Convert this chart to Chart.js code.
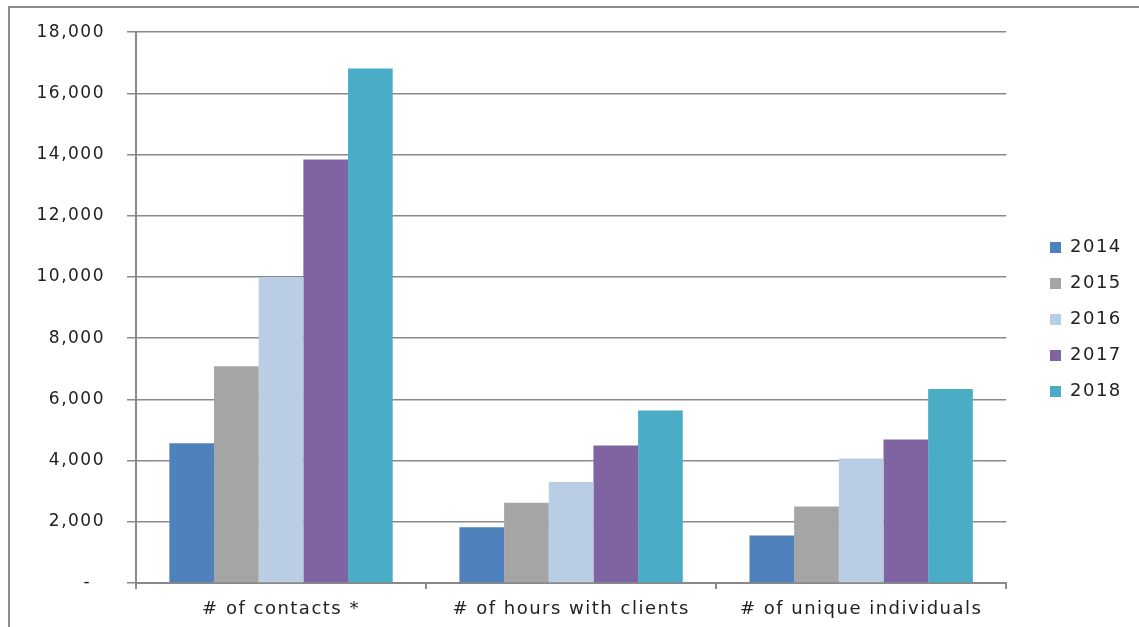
<!DOCTYPE html>
<html>
<head>
<meta charset="utf-8">
<script src="https://cdn.jsdelivr.net/npm/chart.js@4"></script>
<style>
  html, body { margin: 0; padding: 0; background: #fff; overflow: hidden; }
  #wrap { position: relative; width: 1139px; height: 627px; overflow: hidden; }
  #graph { display: block; }
  #frame { position: absolute; left: 8px; top: 6px; width: 1140px; height: 630px; box-sizing: border-box;
           border-top: 2px solid #8c8c8c; border-left: 2px solid #8c8c8c; pointer-events: none; }
</style>
</head>
<body>
<div id="wrap">
  <canvas id="graph" width="1139" height="627"></canvas>
  <div id="frame"></div>
</div>
<script>
// categories and years
const categorias = ['# of contacts *', '# of hours with clients', '# of unique individuals'];
const anios = ['2014', '2015', '2016', '2017', '2018'];

// values, one list per year
const v2014 = [4570, 1820, 1550];
const v2015 = [7080, 2620, 2500];
const v2016 = [10000, 3300, 4070];
const v2017 = [13840, 4490, 4690];
const v2018 = [16810, 5640, 6340];

const colores = ['#4F81BD', '#A5A5A5', '#B9CDE5', '#8064A2', '#4BACC6'];

const yTicks = [0, 2000, 4000, 6000, 8000, 10000, 12000, 14000, 16000, 18000];

const series = [v2014, v2015, v2016, v2017, v2018];
const gris = '#898989';
const fuente = 'DejaVu Sans';

// the original text is a bit wider than the font, so add some spacing
const espaciado = {
  id: 'espaciado',
  beforeLayout(chart) { chart.ctx.letterSpacing = '1.5px'; },
  beforeDraw(chart) { chart.ctx.letterSpacing = '1.5px'; }
};

// legend sits further right (and a bit higher) than Chart.js would put it
const moverLeyenda = {
  id: 'moverLeyenda',
  afterLayout(chart) {
    const lg = chart.legend;
    const dx = 1032 - lg.left;
    lg.left += dx;
    lg.right += dx;
    lg.top -= 6;
    lg.bottom -= 6;
  }
};

const dataAnual = {
  labels: categorias,
  datasets: anios.map((a, i) => ({
    label: a,
    data: series[i],
    backgroundColor: colores[i],
    borderWidth: 0,
    barPercentage: 1,
    categoryPercentage: 0.77
  }))
};

const config = {
  type: 'bar',
  data: dataAnual,
  options: {
    responsive: false,
    animation: false,
    layout: { padding: { top: 24, left: 0, right: 33, bottom: 0 } },
    plugins: {
      legend: {
        position: 'right',
        labels: {
          boxWidth: 11,
          boxHeight: 11,
          padding: 18,
          color: '#222',
          font: { family: fuente, size: 18 }
        }
      },
      tooltip: { enabled: false }
    },
    scales: {
      x: {
        afterFit: s => { s.height = 44; },
        grid: { drawOnChartArea: false, drawTicks: true, tickLength: 6, color: gris, lineWidth: 2 },
        border: { display: true, color: gris, width: 2 },
        ticks: { color: '#222', padding: 10, font: { family: fuente, size: 18 } }
      },
      y: {
        min: 0,
        max: 18000,
        afterFit: s => { s.width = 136; },
        afterBuildTicks: s => { s.ticks = yTicks.map(v => ({ value: v })); },
        grid: { color: gris, lineWidth: 1.5, tickLength: 9 },
        border: { display: true, color: gris, width: 2 },
        ticks: {
          color: '#222',
          padding: 22,
          font: { family: fuente, size: 17 },
          callback: v => v === 0 ? '-  ' : v.toLocaleString('en-US')
        }
      }
    }
  },
  plugins: [espaciado, moverLeyenda]
};

const chart = new Chart(document.querySelector('#graph'), config);
</script>
</body>
</html>
